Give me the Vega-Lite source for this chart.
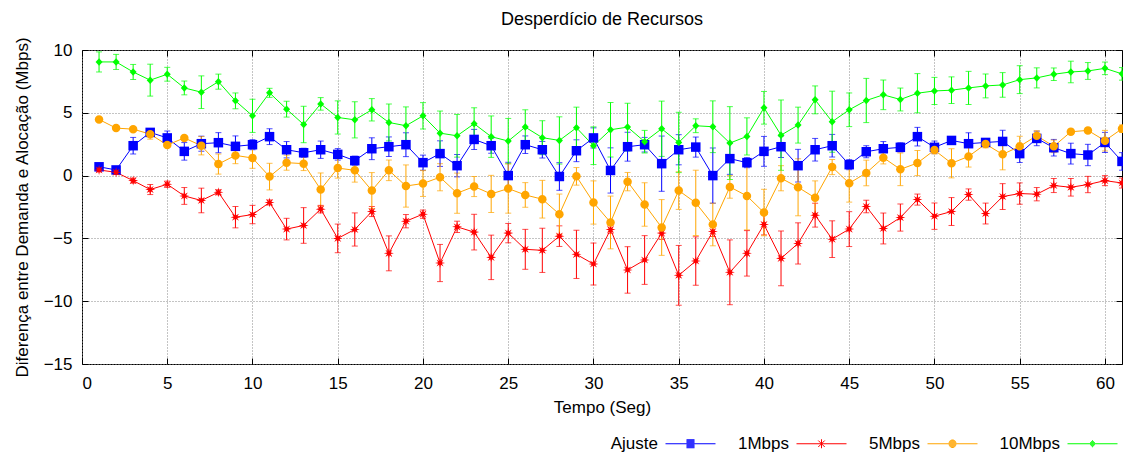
{
  "$schema": "https://vega.github.io/schema/vega-lite/v6.json",
  "width": 1040,
  "height": 314,
  "autosize": {"type": "none"},
  "padding": {"left": 82, "top": 50, "right": 1, "bottom": 88},
  "background": "white",
  "title": {"text": "Desperdício de Recursos", "font": "Liberation Sans", "fontSize": 18, "fontWeight": "normal", "color": "black", "anchor": "middle", "offset": 7},
  "config": {
    "view": {"stroke": "black", "strokeWidth": 1},
    "axis": {"labelFont": "Liberation Sans", "labelFontSize": 17, "labelColor": "black", "titleFont": "Liberation Sans", "titleFontSize": 17, "titleFontWeight": "normal", "titleColor": "black", "tickColor": "black", "domain": false, "gridColor": "#888888", "gridDash": [1, 2], "gridWidth": 1, "gridOpacity": 1}
  },
  "data": {"values": [
    {"t":1,"s":"Ajuste","v":0.7,"e":0.15},{"t":2,"s":"Ajuste","v":0.45,"e":0.15},{"t":3,"s":"Ajuste","v":2.38,"e":0.66},{"t":4,"s":"Ajuste","v":3.44,"e":0.3},{"t":5,"s":"Ajuste","v":3.0,"e":0.55},{"t":6,"s":"Ajuste","v":1.93,"e":0.7},{"t":7,"s":"Ajuste","v":2.54,"e":0.6},{"t":8,"s":"Ajuste","v":2.62,"e":0.8},{"t":9,"s":"Ajuste","v":2.33,"e":0.83},{"t":10,"s":"Ajuste","v":2.46,"e":0.4},
    {"t":11,"s":"Ajuste","v":3.1,"e":0.63},{"t":12,"s":"Ajuste","v":2.06,"e":0.65},{"t":13,"s":"Ajuste","v":1.82,"e":0.36},{"t":14,"s":"Ajuste","v":2.06,"e":0.69},{"t":15,"s":"Ajuste","v":1.69,"e":0.46},{"t":16,"s":"Ajuste","v":1.19,"e":0.36},{"t":17,"s":"Ajuste","v":2.14,"e":0.87},{"t":18,"s":"Ajuste","v":2.3,"e":0.78},{"t":19,"s":"Ajuste","v":2.46,"e":0.95},{"t":20,"s":"Ajuste","v":1.03,"e":0.6},
    {"t":21,"s":"Ajuste","v":1.75,"e":1.02},{"t":22,"s":"Ajuste","v":0.79,"e":0.89},{"t":23,"s":"Ajuste","v":2.88,"e":0.8},{"t":24,"s":"Ajuste","v":2.38,"e":0.6},{"t":25,"s":"Ajuste","v":0.0,"e":1.06},{"t":26,"s":"Ajuste","v":2.46,"e":0.7},{"t":27,"s":"Ajuste","v":2.06,"e":0.66},{"t":28,"s":"Ajuste","v":-0.07,"e":1.1},{"t":29,"s":"Ajuste","v":1.98,"e":0.87},{"t":30,"s":"Ajuste","v":3.0,"e":0.8},
    {"t":31,"s":"Ajuste","v":0.41,"e":1.8},{"t":32,"s":"Ajuste","v":2.3,"e":1.15},{"t":33,"s":"Ajuste","v":2.46,"e":0.58},{"t":34,"s":"Ajuste","v":0.95,"e":2.2},{"t":35,"s":"Ajuste","v":2.06,"e":1.2},{"t":36,"s":"Ajuste","v":2.27,"e":0.8},{"t":37,"s":"Ajuste","v":0.0,"e":2.2},{"t":38,"s":"Ajuste","v":1.35,"e":1.25},{"t":39,"s":"Ajuste","v":1.03,"e":0.4},{"t":40,"s":"Ajuste","v":1.93,"e":1.19},
    {"t":41,"s":"Ajuste","v":2.3,"e":0.86},{"t":42,"s":"Ajuste","v":0.79,"e":1.3},{"t":43,"s":"Ajuste","v":2.06,"e":0.9},{"t":44,"s":"Ajuste","v":2.38,"e":0.9},{"t":45,"s":"Ajuste","v":0.87,"e":0.4},{"t":46,"s":"Ajuste","v":1.9,"e":0.48},{"t":47,"s":"Ajuste","v":2.14,"e":0.57},{"t":48,"s":"Ajuste","v":2.25,"e":0.36},{"t":49,"s":"Ajuste","v":3.1,"e":0.74},{"t":50,"s":"Ajuste","v":2.25,"e":0.5},
    {"t":51,"s":"Ajuste","v":2.8,"e":0.3},{"t":52,"s":"Ajuste","v":2.54,"e":0.87},{"t":53,"s":"Ajuste","v":2.64,"e":0.3},{"t":54,"s":"Ajuste","v":2.72,"e":0.89},{"t":55,"s":"Ajuste","v":1.75,"e":0.71},{"t":56,"s":"Ajuste","v":2.96,"e":0.58},{"t":57,"s":"Ajuste","v":2.22,"e":0.66},{"t":58,"s":"Ajuste","v":1.75,"e":0.83},{"t":59,"s":"Ajuste","v":1.64,"e":0.85},{"t":60,"s":"Ajuste","v":2.64,"e":0.8},{"t":61,"s":"Ajuste","v":1.13,"e":0.7},

    {"t":1,"s":"1Mbps","v":0.45,"e":0.15},{"t":2,"s":"1Mbps","v":0.26,"e":0.15},{"t":3,"s":"1Mbps","v":-0.4,"e":0.2},{"t":4,"s":"1Mbps","v":-1.11,"e":0.4},{"t":5,"s":"1Mbps","v":-0.69,"e":0.25},{"t":6,"s":"1Mbps","v":-1.62,"e":0.67},{"t":7,"s":"1Mbps","v":-1.98,"e":0.98},{"t":8,"s":"1Mbps","v":-1.33,"e":0.2},{"t":9,"s":"1Mbps","v":-3.31,"e":0.85},{"t":10,"s":"1Mbps","v":-3.1,"e":0.73},
    {"t":11,"s":"1Mbps","v":-2.14,"e":0.2},{"t":12,"s":"1Mbps","v":-4.26,"e":0.86},{"t":13,"s":"1Mbps","v":-3.97,"e":1.42},{"t":14,"s":"1Mbps","v":-2.67,"e":0.3},{"t":15,"s":"1Mbps","v":-5.0,"e":1.14},{"t":16,"s":"1Mbps","v":-4.29,"e":1.32},{"t":17,"s":"1Mbps","v":-2.86,"e":0.4},{"t":18,"s":"1Mbps","v":-6.19,"e":1.39},{"t":19,"s":"1Mbps","v":-3.63,"e":0.53},{"t":20,"s":"1Mbps","v":-3.07,"e":0.33},
    {"t":21,"s":"1Mbps","v":-6.96,"e":1.48},{"t":22,"s":"1Mbps","v":-4.08,"e":0.45},{"t":23,"s":"1Mbps","v":-4.5,"e":1.42},{"t":24,"s":"1Mbps","v":-6.51,"e":1.77},{"t":25,"s":"1Mbps","v":-4.58,"e":0.77},{"t":26,"s":"1Mbps","v":-5.87,"e":1.59},{"t":27,"s":"1Mbps","v":-5.95,"e":1.76},{"t":28,"s":"1Mbps","v":-4.82,"e":0.82},{"t":29,"s":"1Mbps","v":-6.27,"e":1.92},{"t":30,"s":"1Mbps","v":-7.04,"e":1.67},
    {"t":31,"s":"1Mbps","v":-4.29,"e":0.3},{"t":32,"s":"1Mbps","v":-7.51,"e":1.85},{"t":33,"s":"1Mbps","v":-6.72,"e":1.94},{"t":34,"s":"1Mbps","v":-4.58,"e":0.5},{"t":35,"s":"1Mbps","v":-7.94,"e":2.38},{"t":36,"s":"1Mbps","v":-6.8,"e":1.93},{"t":37,"s":"1Mbps","v":-4.45,"e":0.4},{"t":38,"s":"1Mbps","v":-7.7,"e":2.58},{"t":39,"s":"1Mbps","v":-6.19,"e":1.81},{"t":40,"s":"1Mbps","v":-3.89,"e":0.83},
    {"t":41,"s":"1Mbps","v":-6.59,"e":2.18},{"t":42,"s":"1Mbps","v":-5.4,"e":1.64},{"t":43,"s":"1Mbps","v":-3.15,"e":0.95},{"t":44,"s":"1Mbps","v":-5.06,"e":1.46},{"t":45,"s":"1Mbps","v":-4.26,"e":1.39},{"t":46,"s":"1Mbps","v":-2.46,"e":0.5},{"t":47,"s":"1Mbps","v":-4.21,"e":1.23},{"t":48,"s":"1Mbps","v":-3.34,"e":1.08},{"t":49,"s":"1Mbps","v":-1.91,"e":0.44},{"t":50,"s":"1Mbps","v":-3.23,"e":1.05},
    {"t":51,"s":"1Mbps","v":-2.86,"e":1.11},{"t":52,"s":"1Mbps","v":-1.51,"e":0.45},{"t":53,"s":"1Mbps","v":-3.02,"e":0.83},{"t":54,"s":"1Mbps","v":-1.67,"e":1.03},{"t":55,"s":"1Mbps","v":-1.43,"e":0.85},{"t":56,"s":"1Mbps","v":-1.48,"e":0.53},{"t":57,"s":"1Mbps","v":-0.79,"e":0.56},{"t":58,"s":"1Mbps","v":-0.93,"e":0.7},{"t":59,"s":"1Mbps","v":-0.71,"e":0.65},{"t":60,"s":"1Mbps","v":-0.4,"e":0.4},{"t":61,"s":"1Mbps","v":-0.59,"e":0.4},

    {"t":1,"s":"5Mbps","v":4.47,"e":0.15},{"t":2,"s":"5Mbps","v":3.78,"e":0.15},{"t":3,"s":"5Mbps","v":3.7,"e":0.15},{"t":4,"s":"5Mbps","v":3.3,"e":0.4},{"t":5,"s":"5Mbps","v":2.43,"e":0.15},{"t":6,"s":"5Mbps","v":3.0,"e":0.15},{"t":7,"s":"5Mbps","v":2.38,"e":0.73},{"t":8,"s":"5Mbps","v":0.92,"e":0.8},{"t":9,"s":"5Mbps","v":1.61,"e":0.66},{"t":10,"s":"5Mbps","v":1.4,"e":0.82},
    {"t":11,"s":"5Mbps","v":-0.08,"e":1.06},{"t":12,"s":"5Mbps","v":1.03,"e":0.6},{"t":13,"s":"5Mbps","v":0.95,"e":0.55},{"t":14,"s":"5Mbps","v":-1.11,"e":1.32},{"t":15,"s":"5Mbps","v":0.6,"e":0.8},{"t":16,"s":"5Mbps","v":0.42,"e":0.94},{"t":17,"s":"5Mbps","v":-1.19,"e":1.43},{"t":18,"s":"5Mbps","v":0.42,"e":0.82},{"t":19,"s":"5Mbps","v":-0.83,"e":1.68},{"t":20,"s":"5Mbps","v":-0.63,"e":1.03},
    {"t":21,"s":"5Mbps","v":-0.13,"e":1.08},{"t":22,"s":"5Mbps","v":-1.4,"e":1.6},{"t":23,"s":"5Mbps","v":-0.87,"e":0.8},{"t":24,"s":"5Mbps","v":-1.46,"e":1.48},{"t":25,"s":"5Mbps","v":-1.03,"e":1.96},{"t":26,"s":"5Mbps","v":-1.54,"e":0.98},{"t":27,"s":"5Mbps","v":-1.88,"e":1.5},{"t":28,"s":"5Mbps","v":-3.07,"e":1.6},{"t":29,"s":"5Mbps","v":-0.06,"e":0.7},{"t":30,"s":"5Mbps","v":-2.14,"e":1.72},
    {"t":31,"s":"5Mbps","v":-3.73,"e":2.1},{"t":32,"s":"5Mbps","v":-0.48,"e":0.73},{"t":33,"s":"5Mbps","v":-2.3,"e":1.73},{"t":34,"s":"5Mbps","v":-4.13,"e":2.22},{"t":35,"s":"5Mbps","v":-1.19,"e":1.5},{"t":36,"s":"5Mbps","v":-2.17,"e":2.6},{"t":37,"s":"5Mbps","v":-3.89,"e":1.7},{"t":38,"s":"5Mbps","v":-0.9,"e":0.9},{"t":39,"s":"5Mbps","v":-1.62,"e":2.7},{"t":40,"s":"5Mbps","v":-2.94,"e":1.85},
    {"t":41,"s":"5Mbps","v":-0.21,"e":1.0},{"t":42,"s":"5Mbps","v":-0.93,"e":2.27},{"t":43,"s":"5Mbps","v":-1.77,"e":1.35},{"t":44,"s":"5Mbps","v":0.68,"e":0.6},{"t":45,"s":"5Mbps","v":-0.61,"e":1.5},{"t":46,"s":"5Mbps","v":0.21,"e":1.02},{"t":47,"s":"5Mbps","v":1.43,"e":0.5},{"t":48,"s":"5Mbps","v":0.5,"e":1.3},{"t":49,"s":"5Mbps","v":1.0,"e":1.0},{"t":50,"s":"5Mbps","v":2.03,"e":0.3},
    {"t":51,"s":"5Mbps","v":0.98,"e":1.16},{"t":52,"s":"5Mbps","v":1.53,"e":0.85},{"t":53,"s":"5Mbps","v":2.51,"e":0.3},{"t":54,"s":"5Mbps","v":1.69,"e":1.23},{"t":55,"s":"5Mbps","v":2.33,"e":0.8},{"t":56,"s":"5Mbps","v":3.17,"e":0.4},{"t":57,"s":"5Mbps","v":2.33,"e":0.5},{"t":58,"s":"5Mbps","v":3.49,"e":0.2},{"t":59,"s":"5Mbps","v":3.6,"e":0.2},{"t":60,"s":"5Mbps","v":2.78,"e":0.82},{"t":61,"s":"5Mbps","v":3.73,"e":0.3},

    {"t":1,"s":"10Mbps","v":9.05,"e":0.8},{"t":2,"s":"10Mbps","v":9.05,"e":0.6},{"t":3,"s":"10Mbps","v":8.25,"e":0.6},{"t":4,"s":"10Mbps","v":7.6,"e":1.27},{"t":5,"s":"10Mbps","v":8.07,"e":0.55},{"t":6,"s":"10Mbps","v":6.98,"e":0.55},{"t":7,"s":"10Mbps","v":6.64,"e":1.3},{"t":8,"s":"10Mbps","v":7.48,"e":0.6},{"t":9,"s":"10Mbps","v":5.95,"e":0.63},{"t":10,"s":"10Mbps","v":4.76,"e":1.32},
    {"t":11,"s":"10Mbps","v":6.59,"e":0.36},{"t":12,"s":"10Mbps","v":5.29,"e":0.63},{"t":13,"s":"10Mbps","v":4.07,"e":1.45},{"t":14,"s":"10Mbps","v":5.71,"e":0.5},{"t":15,"s":"10Mbps","v":4.63,"e":1.32},{"t":16,"s":"10Mbps","v":4.44,"e":1.44},{"t":17,"s":"10Mbps","v":5.24,"e":0.89},{"t":18,"s":"10Mbps","v":4.23,"e":1.47},{"t":19,"s":"10Mbps","v":3.97,"e":1.5},{"t":20,"s":"10Mbps","v":4.76,"e":1.05},
    {"t":21,"s":"10Mbps","v":3.38,"e":1.76},{"t":22,"s":"10Mbps","v":3.17,"e":1.7},{"t":23,"s":"10Mbps","v":4.13,"e":1.27},{"t":24,"s":"10Mbps","v":3.1,"e":1.65},{"t":25,"s":"10Mbps","v":2.75,"e":1.8},{"t":26,"s":"10Mbps","v":3.86,"e":1.38},{"t":27,"s":"10Mbps","v":3.02,"e":1.35},{"t":28,"s":"10Mbps","v":2.8,"e":1.88},{"t":29,"s":"10Mbps","v":3.81,"e":1.64},{"t":30,"s":"10Mbps","v":2.38,"e":1.5},
    {"t":31,"s":"10Mbps","v":3.65,"e":2.17},{"t":32,"s":"10Mbps","v":3.86,"e":1.9},{"t":33,"s":"10Mbps","v":2.7,"e":0.9},{"t":34,"s":"10Mbps","v":3.73,"e":2.2},{"t":35,"s":"10Mbps","v":2.64,"e":2.4},{"t":36,"s":"10Mbps","v":3.97,"e":0.55},{"t":37,"s":"10Mbps","v":3.89,"e":2.06},{"t":38,"s":"10Mbps","v":2.59,"e":2.9},{"t":39,"s":"10Mbps","v":3.12,"e":1.48},{"t":40,"s":"10Mbps","v":5.4,"e":1.3},
    {"t":41,"s":"10Mbps","v":3.22,"e":2.8},{"t":42,"s":"10Mbps","v":4.02,"e":1.43},{"t":43,"s":"10Mbps","v":6.03,"e":1.11},{"t":44,"s":"10Mbps","v":4.29,"e":2.43},{"t":45,"s":"10Mbps","v":5.24,"e":1.34},{"t":46,"s":"10Mbps","v":5.98,"e":1.76},{"t":47,"s":"10Mbps","v":6.43,"e":1.18},{"t":48,"s":"10Mbps","v":6.06,"e":0.91},{"t":49,"s":"10Mbps","v":6.56,"e":1.56},{"t":50,"s":"10Mbps","v":6.74,"e":1.08},
    {"t":51,"s":"10Mbps","v":6.8,"e":1.06},{"t":52,"s":"10Mbps","v":6.98,"e":1.32},{"t":53,"s":"10Mbps","v":7.14,"e":0.95},{"t":54,"s":"10Mbps","v":7.22,"e":0.98},{"t":55,"s":"10Mbps","v":7.64,"e":1.11},{"t":56,"s":"10Mbps","v":7.78,"e":0.8},{"t":57,"s":"10Mbps","v":8.07,"e":0.5},{"t":58,"s":"10Mbps","v":8.25,"e":0.86},{"t":59,"s":"10Mbps","v":8.33,"e":0.67},{"t":60,"s":"10Mbps","v":8.54,"e":0.5},{"t":61,"s":"10Mbps","v":8.1,"e":0.5}
  ]},
  "resolve": {"scale": {"color": "independent", "shape": "independent"}, "axis": {"x": "independent", "y": "independent"}, "legend": {"color": "independent", "shape": "independent"}},
  "layer": [
    {
      "mark": {"type": "errorbar", "ticks": {"size": 6, "strokeWidth": 1}, "rule": {"strokeWidth": 1}},
      "encoding": {
        "x": {"field": "t", "type": "quantitative", "scale": {"domain": [0, 61], "nice": false, "zero": false},
              "axis": {"orient": "bottom", "values": [0,5,10,15,20,25,30,35,40,45,50,55,60], "title": "Tempo (Seg)", "tickSize": -6, "labelPadding": 17, "titlePadding": 8, "grid": true}},
        "y": {"field": "v", "type": "quantitative", "scale": {"domain": [-15, 10], "nice": false, "zero": false},
              "axis": {"orient": "left", "values": [-15,-10,-5,0,5,10], "title": "Diferença entre Demanda e Alocação (Mbps)", "tickSize": -6, "labelPadding": 16, "titlePadding": 12, "grid": true}},
        "yError": {"field": "e"},
        "color": {"field": "s", "type": "nominal", "scale": {"domain": ["Ajuste","1Mbps","5Mbps","10Mbps"], "range": ["#0000ff","#ff0000","#ffa500","#00ff00"]}, "legend": null}
      }
    },
    {
      "mark": {"type": "line", "strokeWidth": 1},
      "encoding": {
        "x": {"field": "t", "type": "quantitative", "scale": {"domain": [0, 61], "nice": false, "zero": false},
              "axis": {"orient": "top", "values": [0,5,10,15,20,25,30,35,40,45,50,55,60], "title": null, "labels": false, "tickSize": -6, "grid": false}},
        "y": {"field": "v", "type": "quantitative", "scale": {"domain": [-15, 10], "nice": false, "zero": false},
              "axis": {"orient": "right", "values": [-15,-10,-5,0,5,10], "title": null, "labels": false, "tickSize": -6, "grid": false}},
        "color": {"field": "s", "type": "nominal", "scale": {"domain": ["Ajuste","1Mbps","5Mbps","10Mbps"], "range": ["#0000ff","#ff0000","#ffa500","#00ff00"]}, "legend": null}
      }
    },
    {
      "mark": {"type": "point", "filled": true, "opacity": 1, "size": 100},
      "encoding": {
        "x": {"field": "t", "type": "quantitative", "scale": {"domain": [0, 61], "nice": false, "zero": false}, "axis": null},
        "y": {"field": "v", "type": "quantitative", "scale": {"domain": [-15, 10], "nice": false, "zero": false}, "axis": null},
        "color": {"field": "s", "type": "nominal", "scale": {"domain": ["Ajuste","1Mbps","5Mbps","10Mbps"], "range": ["#0000ff","#ff0000","#ffa500","#00ff00"]}, "legend": null},
        "shape": {"field": "s", "type": "nominal", "scale": {"domain": ["Ajuste","1Mbps","5Mbps","10Mbps"], "range": [
          "M-0.95,-0.95H0.95V0.95H-0.95Z",
          "M1,0L0.37,0.153L0.707,0.707L0.153,0.37L0,1L-0.153,0.37L-0.707,0.707L-0.37,0.153L-1,0L-0.37,-0.153L-0.707,-0.707L-0.153,-0.37L0,-1L0.153,-0.37L0.707,-0.707L0.37,-0.153Z",
          "M0.85,0A0.85,0.85 0 1,1 -0.85,0A0.85,0.85 0 1,1 0.85,0Z",
          "M0,-0.75L0.7,0L0,0.75L-0.7,0Z"
        ]}, "legend": null}
      }
    },
    {
      "transform": [{"filter": "datum.t == 1"}],
      "mark": {"type": "point", "filled": false, "opacity": 0, "size": 2500},
      "encoding": {
        "x": {"field": "t", "type": "quantitative", "scale": {"domain": [0, 61], "nice": false, "zero": false}, "axis": null},
        "y": {"field": "v", "type": "quantitative", "scale": {"domain": [-15, 10], "nice": false, "zero": false}, "axis": null},
        "color": {"field": "s", "type": "nominal", "scale": {"domain": ["Ajuste","1Mbps","5Mbps","10Mbps"], "range": ["#0000ff","#ff0000","#ffa500","#00ff00"]},
                  "legend": {"orient": "none", "legendX": 583, "legendY": 368, "direction": "horizontal", "title": null, "padding": 0, "symbolSize": 2500, "symbolStrokeWidth": 1, "symbolOpacity": 1, "labelFont": "Liberation Sans", "labelFontSize": 17, "labelColor": "black", "labelAlign": "right", "labelOffset": -58, "columnPadding": 19, "labelLimit": 0}},
        "shape": {"field": "s", "type": "nominal", "scale": {"domain": ["Ajuste","1Mbps","5Mbps","10Mbps"], "range": [
          "M-1,0H1M-0.16,-0.16H0.16M-0.16,-0.12H0.16M-0.16,-0.08H0.16M-0.16,-0.04H0.16M-0.16,0.04H0.16M-0.16,0.08H0.16M-0.16,0.12H0.16M-0.16,0.16H0.16",
          "M-1,0H1M0,-0.18V0.18M-0.13,-0.13L0.13,0.13M-0.13,0.13L0.13,-0.13",
          "M-1,0H1M-0.155,-0.04H0.155M-0.155,0.04H0.155M-0.139,-0.08H0.139M-0.139,0.08H0.139M-0.106,-0.12H0.106M-0.106,0.12H0.106M-0.05,-0.15H0.05M-0.05,0.15H0.05",
          "M-1,0H1M-0.1,-0.04H0.1M-0.1,0.04H0.1M-0.06,-0.08H0.06M-0.06,0.08H0.06M-0.02,-0.12H0.02M-0.02,0.12H0.02"
        ]},
                  "legend": {"orient": "none", "legendX": 583, "legendY": 368, "direction": "horizontal", "title": null, "padding": 0, "symbolSize": 2500, "symbolStrokeWidth": 1, "symbolOpacity": 1, "labelFont": "Liberation Sans", "labelFontSize": 17, "labelColor": "black", "labelAlign": "right", "labelOffset": -58, "columnPadding": 19, "labelLimit": 0}}
      }
    }
  ]
}
